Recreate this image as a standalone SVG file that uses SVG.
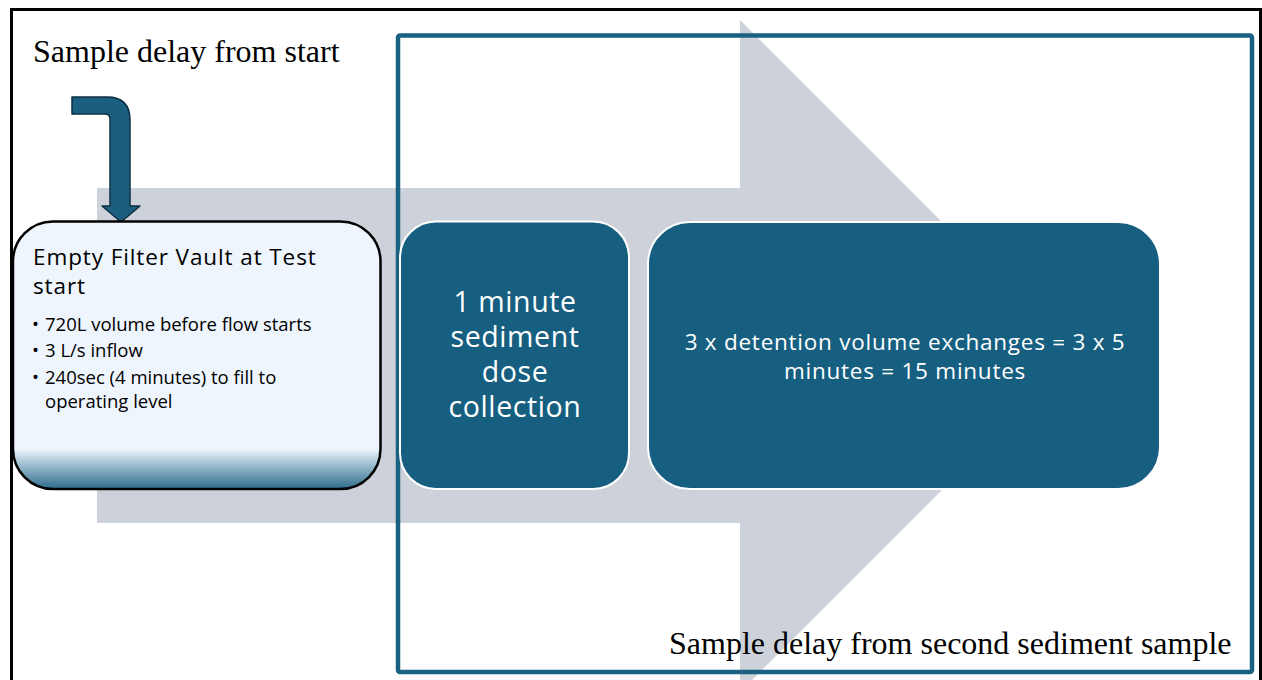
<svg xmlns="http://www.w3.org/2000/svg" width="1262" height="680" viewBox="0 0 1262 680">
<style>
.serif{font-family:"Liberation Serif","Times New Roman",serif;font-size:32px;fill:#000}
.sans{font-family:"Open Sans","Noto Sans",sans-serif}
.box{fill:#175f80;stroke:#ffffff;stroke-width:2}
.wt{fill:#ffffff;text-anchor:middle}
</style>
<defs>
<linearGradient id="lg" x1="0" y1="0" x2="0" y2="1">
<stop offset="0" stop-color="#eef5fc"/>
<stop offset="0.85" stop-color="#eef5fc"/>
<stop offset="0.9" stop-color="#a9c6d6"/>
<stop offset="1" stop-color="#2f6c8c"/>
</linearGradient>
</defs>
<rect width="1262" height="680" fill="#ffffff"/>
<rect x="11.5" y="9.5" width="1249" height="700" fill="none" stroke="#000" stroke-width="3"/>
<g id="bigArrow">
<path d="M97,188 L740,188 L740,20 L1076,356 L740,692 L740,523 L97,523 Z" fill="#cdd2da"/>
</g>
<g id="sampleFrame">
<rect x="398" y="35.5" width="854" height="636.5" rx="2" fill="none" stroke="#1a6082" stroke-width="4.5"/>
</g>
<g id="labelStart">
<text class="serif" x="33" y="62">Sample delay from start</text>
</g>
<g id="labelSecond">
<text class="serif" x="669" y="654">Sample delay from second sediment sample</text>
</g>
<g id="connectors">
<path d="M72,97 L107,97 Q130,97 130,120 L130,206 L140,206 L121,222 L102,206 L110,206 L110,119 Q110,114 105,114 L72,114 Z" fill="#1b5f80" stroke="#0e2f42" stroke-width="1.5" stroke-linejoin="round"/>
</g>
<g id="nodeEmpty">
<rect x="13" y="221.5" width="367.5" height="267.5" rx="40" fill="url(#lg)" stroke="#000" stroke-width="2.5"/>
<g class="sans" font-size="22.5" letter-spacing="0.9" fill="#000">
<text x="33" y="265">Empty Filter Vault at Test</text>
<text x="33" y="294">start</text>
</g>
<g class="sans" font-size="18.5" fill="#000">
<text x="32" y="331">•</text><text x="45" y="331">720L volume before flow starts</text>
<text x="32" y="357">•</text><text x="45" y="357">3 L/s inflow</text>
<text x="32" y="384">•</text><text x="45" y="384">240sec (4 minutes) to fill to</text>
<text x="45" y="408">operating level</text>
</g>
</g>
<g id="nodeDose">
<rect class="box" x="400" y="221.5" width="229" height="267.5" rx="36"/>
<g class="sans wt" font-size="28.5" letter-spacing="0.6">
<text x="515" y="312">1 minute</text>
<text x="515" y="347">sediment</text>
<text x="515" y="382">dose</text>
<text x="515" y="417">collection</text>
</g>
</g>
<g id="nodeExchange">
<rect class="box" x="648" y="222" width="512" height="267" rx="42"/>
<g class="sans wt" font-size="22.5" letter-spacing="0.75">
<text x="905" y="350">3 x detention volume exchanges = 3 x 5</text>
<text x="905" y="379">minutes = 15 minutes</text>
</g>
</g>
</svg>
